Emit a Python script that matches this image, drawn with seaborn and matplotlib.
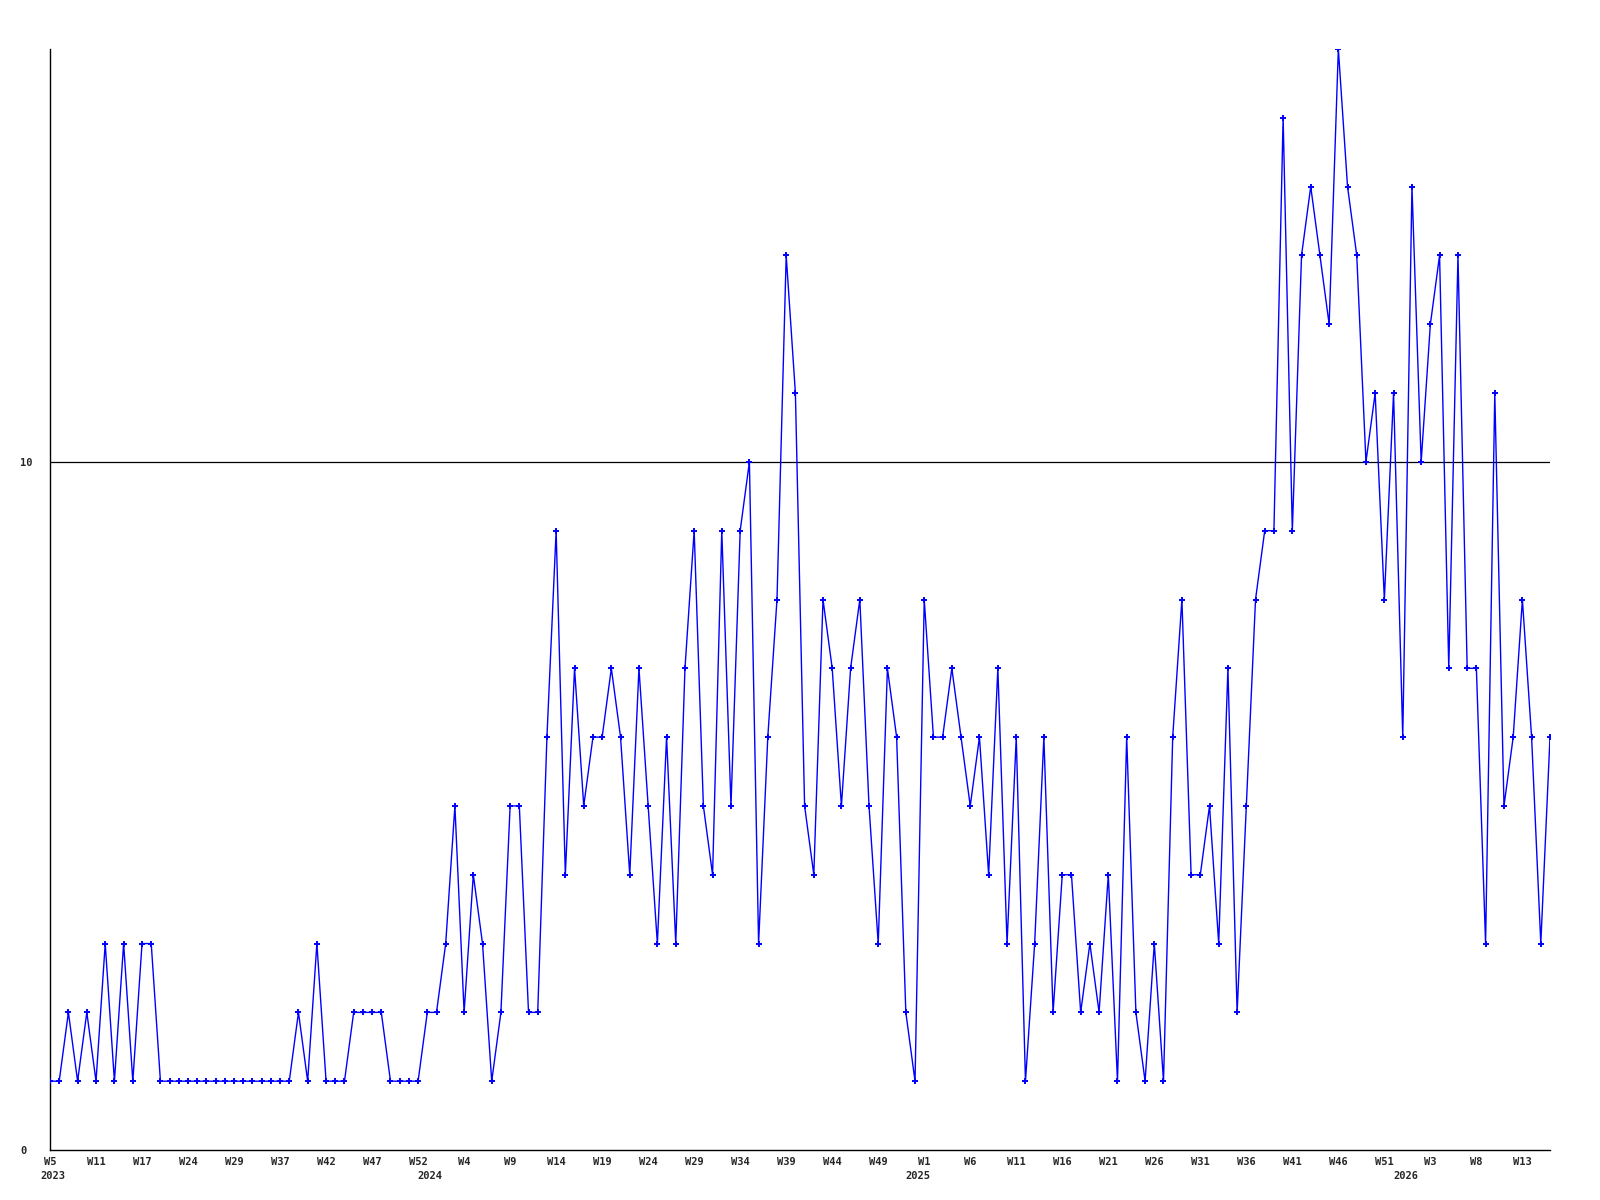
import numpy as np
import pandas as pd
import seaborn as sns
import matplotlib.pyplot as plt


# weekly counts, 2023 W5 .. 2026 W15
counts = [1, 1, 2, 1, 2, 1, 3, 1, 3, 1, 3, 3, 1, 1, 1, 1, 1, 1, 1, 1,
          1, 1, 1, 1, 1, 1, 1, 2, 1, 3, 1, 1, 1, 2, 2, 2, 2, 1, 1, 1,
          1, 2, 2, 3, 5, 2, 4, 3, 1, 2, 5, 5, 2, 2, 6, 9, 4, 7, 5, 6,
          6, 7, 6, 4, 7, 5, 3, 6, 3, 7, 9, 5, 4, 9, 5, 9, 10, 3, 6, 8,
          13, 11, 5, 4, 8, 7, 5, 7, 8, 5, 3, 7, 6, 2, 1, 8, 6, 6, 7, 6,
          5, 6, 4, 7, 3, 6, 1, 3, 6, 2, 4, 4, 2, 3, 2, 4, 1, 6, 2, 1,
          3, 1, 6, 8, 4, 4, 5, 3, 7, 2, 5, 8, 9, 9, 15, 9, 13, 14, 13, 12,
          16, 14, 13, 10, 11, 8, 11, 6, 14, 10, 12, 13, 7, 13, 7, 7, 3, 11, 5, 6,
          8, 6, 3, 6]

week_labels = ['W5', 'W11', 'W17', 'W24', 'W29', 'W37', 'W42', 'W47', 'W52',
               'W4', 'W9', 'W14', 'W19', 'W24', 'W29', 'W34', 'W39', 'W44', 'W49',
               'W1', 'W6', 'W11', 'W16', 'W21', 'W26', 'W31', 'W36', 'W41', 'W46',
               'W51', 'W3', 'W8', 'W13']
years = ['2023', '2024', '2025', '2026']
year_pos = [0, 41, 94, 147]

df = pd.DataFrame({'week': np.arange(len(counts)), 'count': counts})

sns.set_style('white')
plt.rcParams['font.family'] = ['DejaVu Sans Mono']
plt.rcParams['font.weight'] = 'bold'

fig = plt.figure(figsize=(16, 12), dpi=100)
ax = fig.add_axes([50 / 1600, 50 / 1200, 1500 / 1600, 1101 / 1200])

ax.axhline(10, color='black', lw=0.9, zorder=1)
sns.lineplot(data=df, x='week', y='count', ax=ax, color='#0000ff', lw=1.0,
             marker='+', markersize=4, markeredgewidth=1.4, markeredgecolor='#0000ff',
             zorder=3)

ax.set_xlim(0, len(counts) - 1)
ax.set_ylim(0, 16)
ax.set_xlabel('')
ax.set_ylabel('')

ax.set_xticks(np.arange(0, len(week_labels) * 5, 5))
ax.set_xticklabels(week_labels, fontsize=7.5, fontweight='bold')
ax.set_yticks([0, 10])
ax.set_yticklabels(['0', '10'], fontsize=7.5, fontweight='bold', ha='left')
ax.tick_params(axis='x', length=0, pad=5)
ax.tick_params(axis='y', length=0, pad=21.6)

for yr, pos in zip(years, year_pos):
    ax.text(pos + 0.3, -0.0236, yr, transform=ax.get_xaxis_transform(),
            ha='center', va='center', fontsize=7.5, fontweight='bold')

for side in ['top', 'right']:
    ax.spines[side].set_visible(False)
for side in ['left', 'bottom']:
    ax.spines[side].set_color('black')
    ax.spines[side].set_linewidth(1.0)

fig.savefig('out.png', dpi=100)
